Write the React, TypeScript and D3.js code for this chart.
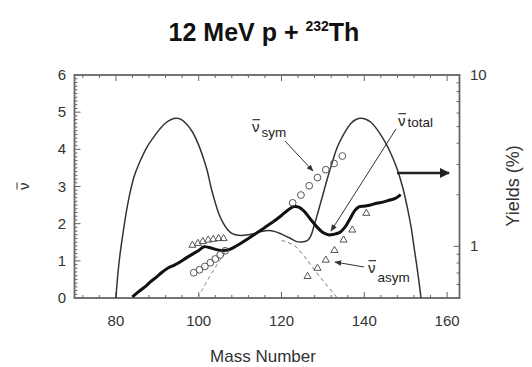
import React from 'react';
import * as d3 from 'd3';

type P = [number, number];

// Mass-yield curve (right axis, %)
const yieldCurve: P[] = [
  [80, 0.5], [80.5, 0.7], [81, 0.9], [81.5, 1.1], [82.5, 1.58], [83.5, 2.1], [84.5, 2.6],
  [86, 3.2], [87.5, 3.8], [89, 4.3], [90.5, 4.8], [92, 5.25], [93.5, 5.52], [94.5, 5.6],
  [95.5, 5.55], [97, 5.2], [98.5, 4.65], [100, 3.9], [101, 3.35], [102, 2.8], [103, 2.2],
  [104, 1.8], [105, 1.52], [106, 1.36], [107, 1.25], [108, 1.19], [109.5, 1.16], [111, 1.16],
  [113, 1.18], [115, 1.22], [116.8, 1.24], [118.5, 1.22], [120, 1.18], [122, 1.12],
  [123.5, 1.07], [125, 1.06], [126.2, 1.08], [127, 1.14], [128, 1.35], [129, 1.64], [130, 2.0],
  [131, 2.45], [132, 2.95], [133.5, 3.8], [135, 4.5], [136.7, 5.2], [138, 5.5], [139.2, 5.6],
  [140.5, 5.5], [141.6, 5.3], [143, 4.85], [144.8, 4.15], [146.5, 3.45], [148, 2.8],
  [149.3, 2.2], [150.5, 1.64], [151.3, 1.3], [152.1, 0.96], [153, 0.68], [153.7, 0.5],
];

// nu-bar total (left axis)
const nuTotal: P[] = [
  [84, 0.03], [85.5, 0.17], [87, 0.3], [88.5, 0.45], [90, 0.58], [91, 0.68], [92.5, 0.8],
  [94, 0.88], [95.5, 0.97], [97, 1.08], [98.5, 1.18], [100, 1.28], [101.3, 1.38], [102.5, 1.36],
  [104, 1.31], [105.5, 1.28], [107, 1.29], [108.5, 1.36], [110, 1.46], [112, 1.6], [114, 1.75],
  [116, 1.9], [118, 2.05], [120, 2.22], [121.5, 2.36], [123, 2.46], [124.3, 2.44], [125.5, 2.33],
  [127, 2.12], [128.5, 1.92], [130, 1.76], [131.3, 1.7], [132.5, 1.71], [134, 1.76], [135.3, 1.9],
  [136.5, 2.12], [137.7, 2.35], [138.7, 2.45], [140, 2.47], [141.5, 2.5], [143, 2.55],
  [144.5, 2.58], [146, 2.63], [147.5, 2.68], [148.8, 2.78],
];

// dashed fits
const dashedLeft: P[] = [[99.8, 0], [101, 0.25], [102.5, 0.55], [104, 0.82], [105.5, 1.08], [106.5, 1.25]];
const dashedRight: P[] = [[120, 1.55], [123, 1.42], [125.5, 1.12], [128, 0.75], [130.5, 0.4], [133.5, 0]];

// nu-bar sym (circles)
const nuSym: P[] = [
  [98.8, 0.68], [100.2, 0.76], [101.5, 0.85], [102.8, 0.95], [104, 1.05], [105.2, 1.16], [106.4, 1.27],
  [122.7, 2.56], [124.7, 2.77], [126.7, 3.02], [128.7, 3.24], [130.7, 3.45], [132.7, 3.62], [134.7, 3.82],
];

// nu-bar asym (triangles)
const nuAsym: P[] = [
  [98.5, 1.42], [99.8, 1.47], [101, 1.52], [102.3, 1.56], [103.5, 1.58], [104.8, 1.6], [106, 1.6],
  [126.3, 0.58], [128.7, 0.8], [130.7, 1.02], [132.8, 1.28], [135, 1.56], [137.1, 1.83], [140.5, 2.28],
];

const massMajor = [80, 100, 120, 140, 160];
const nuMajor = [0, 1, 2, 3, 4, 5, 6];
const yieldLabels = [1, 10];

const FONT = "'Liberation Sans', Arial, Helvetica, sans-serif";

function NuBar({ x, y, size, sub, subSize, subDx, subDy }: { x: number; y: number; size: number; sub: string; subSize: number; subDx: number; subDy: number }) {
  const w = size * 0.5;
  return (
    <g fill="#222" fontFamily={FONT}>
      <text x={x} y={y} fontSize={size}>ν</text>
      <line x1={x + 0.5} x2={x + w + 0.5} y1={y - size * 0.82} y2={y - size * 0.82} stroke="#222" strokeWidth={1.1} />
      <text x={x + w + subDx} y={y + subDy} fontSize={subSize}>{sub}</text>
    </g>
  );
}

export default function App() {
  const W = 532, H = 367;
  const x = d3.scaleLinear().domain([70, 163]).range([74.5, 459.5]);
  const yL = d3.scaleLinear().domain([0, 6]).range([298, 75]);
  const yR = d3.scaleLog().domain([0.5, 10]).range([298, 75]);
  const [x0, x1] = x.range();
  const [yb, yt] = yL.range();

  const lineL = d3.line<P>().x(d => x(d[0])).y(d => yL(d[1])).curve(d3.curveCatmullRom);
  const lineR = d3.line<P>().x(d => x(d[0])).y(d => yR(d[1])).curve(d3.curveCatmullRom);

  const massMinor = d3.range(72, 163, 4).filter(v => !massMajor.includes(v));
  const nuMinor = d3.range(0, 6.001, 0.1).map(v => +v.toFixed(1)).filter(v => !nuMajor.includes(v));
  const yMinor = [0.5, 0.6, 0.7, 0.8, 0.9, 2, 3, 4, 5, 6, 7, 8, 9];
  const tri = d3.symbol().type(d3.symbolTriangle).size(22)()!;

  const axisCol = '#666';
  return (
    <svg width={W} height={H} style={{ position: 'absolute', left: 0, top: 0, background: '#fff' }}>
      <defs>
        <marker id="ah" viewBox="0 0 10 10" refX="9" refY="5" markerWidth="7" markerHeight="7" orient="auto" markerUnits="userSpaceOnUse">
          <path d="M0,1 L10,5 L0,9 z" fill="#333" />
        </marker>
        <marker id="ahBig" viewBox="0 0 10 10" refX="9" refY="5" markerWidth="12" markerHeight="10" orient="auto" markerUnits="userSpaceOnUse">
          <path d="M0,0 L10,5 L0,10 z" fill="#222" />
        </marker>
        <clipPath id="plot"><rect x={x0} y={yt} width={x1 - x0} height={yb - yt} /></clipPath>
      </defs>

      {/* title */}
      <text x={264} y={41} textAnchor="middle" fontFamily={FONT} fontWeight="bold" fontSize={25} fill="#111">
        12 MeV p + <tspan fontSize={14} dy={-10}>232</tspan><tspan dy={10}>Th</tspan>
      </text>

      {/* ticks */}
      <g stroke={axisCol} strokeWidth={1}>
        {massMajor.map(v => (
          <g key={'mM' + v}>
            <line x1={x(v)} x2={x(v)} y1={yb} y2={yb - 6} />
            <line x1={x(v)} x2={x(v)} y1={yt} y2={yt + 6} />
          </g>
        ))}
        {massMinor.map(v => (
          <g key={'mm' + v}>
            <line x1={x(v)} x2={x(v)} y1={yb} y2={yb - 3} />
            <line x1={x(v)} x2={x(v)} y1={yt} y2={yt + 3} />
          </g>
        ))}
        {nuMajor.map(v => <line key={'nM' + v} x1={x0} x2={x0 + 6} y1={yL(v)} y2={yL(v)} />)}
        {nuMinor.map(v => <line key={'nm' + v} x1={x0} x2={x0 + 3} y1={yL(v)} y2={yL(v)} />)}
        {yieldLabels.map(v => <line key={'yM' + v} x1={x1} x2={x1 - 6} y1={yR(v)} y2={yR(v)} />)}
        {yMinor.map(v => <line key={'ym' + v} x1={x1} x2={x1 - 3} y1={yR(v)} y2={yR(v)} />)}
      </g>

      {/* frame */}
      <rect x={x0} y={yt} width={x1 - x0} height={yb - yt} fill="none" stroke={axisCol} strokeWidth={1.8} />

      {/* tick labels */}
      <g fontFamily={FONT} fontSize={15} fill="#333">
        {massMajor.map(v => <text key={'xl' + v} x={x(v)} y={326} textAnchor="middle">{v}</text>)}
        {nuMajor.map(v => <text key={'ll' + v} x={66} y={yL(v) + 5} textAnchor="end">{v}</text>)}
        {yieldLabels.map(v => <text key={'rl' + v} x={470} y={yR(v) + 5}>{v}</text>)}
      </g>

      {/* axis titles */}
      <text x={263} y={362} textAnchor="middle" fontFamily={FONT} fontSize={17} fill="#333">Mass Number</text>
      <text transform={`translate(519,186) rotate(-90)`} textAnchor="middle" fontFamily={FONT} fontSize={18} fill="#333">Yields (%)</text>
      <g transform="translate(29,186) rotate(-90)">
        <text x={-4} y={0} fontFamily={FONT} fontSize={15} fill="#333">ν</text>
        <line x1={-3.5} x2={3.5} y1={-12} y2={-12} stroke="#333" strokeWidth={1} />
      </g>

      <g clipPath="url(#plot)">
        {/* yield curve */}
        <path d={lineR(yieldCurve)!} fill="none" stroke="#333" strokeWidth={1.5} />
        {/* dashed */}
        <path d={lineL(dashedLeft)!} fill="none" stroke="#888" strokeWidth={1} strokeDasharray="4,3" />
        <path d={lineL(dashedRight)!} fill="none" stroke="#777" strokeWidth={1} strokeDasharray="4,3" />
        {/* total */}
        <path d={lineL(nuTotal)!} fill="none" stroke="#111" strokeWidth={3} />
        {/* sym circles */}
        {nuSym.map((d, i) => <circle key={'c' + i} cx={x(d[0])} cy={yL(d[1])} r={3.4} fill="none" stroke="#555" strokeWidth={1} />)}
        {/* asym triangles */}
        {nuAsym.map((d, i) => <path key={'t' + i} d={tri} transform={`translate(${x(d[0])},${yL(d[1])})`} fill="none" stroke="#555" strokeWidth={1} />)}
      </g>

      {/* annotations */}
      <line x1={285} y1={141} x2={313} y2={171} stroke="#333" strokeWidth={1} markerEnd="url(#ah)" />
      <line x1={396} y1={129} x2={331} y2={231} stroke="#333" strokeWidth={1} markerEnd="url(#ah)" />
      <line x1={364} y1={267} x2={335} y2={262} stroke="#333" strokeWidth={1} markerEnd="url(#ah)" />
      <line x1={397} y1={173} x2={449} y2={173} stroke="#222" strokeWidth={2.5} markerEnd="url(#ahBig)" />

      <NuBar x={252} y={132} size={15} sub="sym" subSize={13.5} subDx={2} subDy={5} />
      <NuBar x={398} y={126} size={15} sub="total" subSize={13.5} subDx={2} subDy={1} />
      <NuBar x={368} y={273} size={15} sub="asym" subSize={13.5} subDx={2} subDy={9} />
    </svg>
  );
}
